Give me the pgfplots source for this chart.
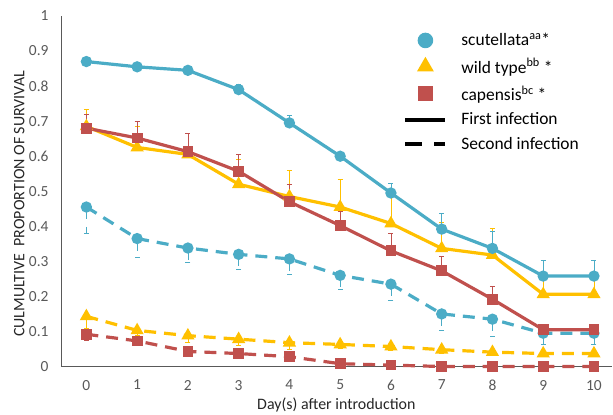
\documentclass[border=0pt]{standalone}
\usepackage{fontspec}
\setmainfont{Carlito}
\usepackage{pgfplots}
\pgfplotsset{compat=1.18}
\definecolor{cblue}{HTML}{4BACC6}
\definecolor{cyel}{HTML}{FFC000}
\definecolor{cred}{HTML}{C0504D}
\definecolor{axgray}{HTML}{595959}
\pgfplotsset{
  markleg/.style={legend image code/.code={\path[draw=none,fill=none] (0bp,0bp) -- (40bp,0bp); \draw[##1] plot coordinates {(20bp,0bp)};}},
  lineleg/.style={legend image code/.code={\draw[##1] (0bp,0bp) -- (40bp,0bp);}},
}
\begin{document}
\begin{tikzpicture}[x=1bp,y=1bp]
\useasboundingbox (0,0) rectangle (613,414);
\begin{axis}[
  at={(61bp,47.5bp)}, anchor=south west,
  scale only axis, width=550.7bp, height=350.5bp,
  xmin=-0.5, xmax=10.35, ymin=0, ymax=1,
  axis x line=bottom, axis y line=left,
  axis line style={draw=axgray, line width=0.8pt, -},
  xtick={0,...,10}, ytick={0,0.1,...,1},
  yticklabels={0,0.1,0.2,0.3,0.4,0.5,0.6,0.7,0.8,0.9,1},
  major tick length=0pt,
  tick label style={font=\fontsize{15.5}{17}\selectfont, text=axgray},
  xticklabel style={yshift=-10bp},
  yticklabel style={xshift=-9bp},
  /pgf/number format/assume math mode=true,
  xlabel={Day(s) after introduction},
  ylabel={CULMULTIVE\ \ PROPORTION OF SURVIVAL},
  every axis x label/.style={at={(axis description cs:0.5,-0.11)}, anchor=center, font=\fontsize{16}{18}\selectfont, text=black!85},
  every axis y label/.style={at={(axis description cs:-0.076,0.464)}, anchor=center, rotate=90, font=\fontsize{16}{18}\selectfont, text=black!85},
  clip=false,
  legend style={draw=none, fill=none, at={(axis description cs:0.616,0.962)}, anchor=north west,
    font=\fontsize{17.5}{19}\selectfont, row sep=7bp, cells={anchor=west},
    /tikz/every odd column/.append style={column sep=12bp}},
  legend cell align=left,
  every axis plot/.append style={line width=3.2pt},
  error bars/error bar style={line width=0.7pt},
  error bars/error mark options={rotate=90, mark size=2.5pt, line width=0.7pt},
]
% legend images
\addlegendimage{only marks, mark=*, mark size=6.2pt, color=cblue, markleg}
\addlegendentry{scutellata\textsuperscript{aa}*}
\addlegendimage{only marks, mark=triangle*, mark size=6.5pt, color=cyel, markleg}
\addlegendentry{wild type\textsuperscript{bb} *}
\addlegendimage{only marks, mark=square*, mark size=5.8pt, color=cred, markleg}
\addlegendentry{capensis\textsuperscript{bc} *}
\addlegendimage{black, line width=4pt, lineleg}
\addlegendentry{First infection}
\addlegendimage{black, line width=4pt, dash pattern=on 17bp off 12bp, lineleg}
\addlegendentry{Second infection}

% second infection
\addplot[cblue, dash pattern=on 12pt off 8pt, mark=*, mark size=4pt, mark options={solid},
  error bars/.cd, y dir=minus, y explicit] coordinates {
(0,0.455) -= (0,0.075)
(1,0.365) -= (0,0.055)
(2,0.338) -= (0,0.040)
(3,0.320) -= (0,0.042)
(4,0.307) -= (0,0.044)
(5,0.260) -= (0,0.040)
(6,0.235) -= (0,0.045)
(7,0.150) -= (0,0.048)
(8,0.135) -= (0,0.048)
(9,0.095) -= (0,0.031)
(10,0.095) -= (0,0.031)
};
\addplot[cyel, dash pattern=on 12pt off 8pt, mark=triangle*, mark size=4.5pt, mark options={solid},
  error bars/.cd, y dir=minus, y explicit] coordinates {
(0,0.143) -= (0,0.033)
(1,0.103) -= (0,0.015)
(2,0.088) -= (0,0.020)
(3,0.078) -= (0,0.018)
(4,0.068) -= (0,0.018)
(5,0.063) -= (0,0.010)
(6,0.057) -= (0,0.010)
(7,0.048) -= (0,0.010)
(8,0.041) -= (0,0.008)
(9,0.037) -= (0,0.005)
(10,0.037) -= (0,0.005)
};
\addplot[cred, dash pattern=on 12pt off 8pt, mark=square*, mark size=3.8pt, mark options={solid},
  error bars/.cd, y dir=minus, y explicit] coordinates {
(0,0.092) -= (0,0.016)
(1,0.073) -= (0,0.008)
(2,0.043) -= (0,0.005)
(3,0.037) -= (0,0.005)
(4,0.028) -= (0,0.005)
(5,0.008) -= (0,0.003)
(6,0.004) -= (0,0.002)
(7,0.000) -= (0,0)
(8,0.000) -= (0,0)
(9,0.000) -= (0,0)
(10,0.000) -= (0,0)
};
% first infection
\addplot[cyel, mark=triangle*, mark size=4.5pt,
  error bars/.cd, y dir=plus, y explicit] coordinates {
(0,0.685) += (0,0.050)
(1,0.625) += (0,0.060)
(2,0.605) += (0,0.060)
(3,0.520) += (0,0.070)
(4,0.485) += (0,0.075)
(5,0.455) += (0,0.080)
(6,0.408) += (0,0.090)
(7,0.337) += (0,0.075)
(8,0.318) += (0,0.076)
(9,0.206) += (0,0.055)
(10,0.206) += (0,0.055)
};
\addplot[cred, mark=square*, mark size=3.8pt,
  error bars/.cd, y dir=plus, y explicit] coordinates {
(0,0.680) += (0,0.040)
(1,0.652) += (0,0.048)
(2,0.613) += (0,0.052)
(3,0.557) += (0,0.048)
(4,0.470) += (0,0.050)
(5,0.402) += (0,0.040)
(6,0.330) += (0,0.050)
(7,0.273) += (0,0.042)
(8,0.192) += (0,0.038)
(9,0.105) += (0,0.016)
(10,0.105) += (0,0.016)
};
\addplot[cblue, mark=*, mark size=4pt,
  error bars/.cd, y dir=plus, y explicit] coordinates {
(0,0.870) += (0,0.005)
(1,0.855) += (0,0.005)
(2,0.845) += (0,0.005)
(3,0.790) += (0,0.015)
(4,0.695) += (0,0.022)
(5,0.600) += (0,0.008)
(6,0.495) += (0,0.028)
(7,0.392) += (0,0.044)
(8,0.337) += (0,0.048)
(9,0.258) += (0,0.046)
(10,0.258) += (0,0.046)
};
\end{axis}
\end{tikzpicture}
\end{document}
